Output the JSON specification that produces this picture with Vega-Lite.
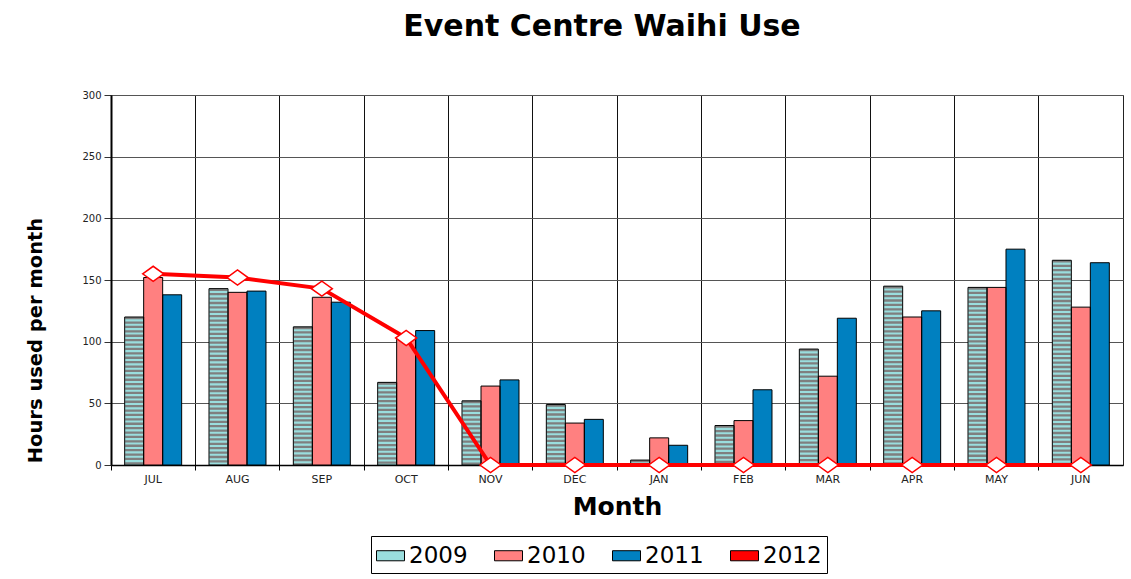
{
  "$schema": "https://vega.github.io/schema/vega-lite/v6.json",
  "width": 1012,
  "height": 370,
  "autosize": {"type": "none"},
  "padding": {"left": 111, "top": 95, "right": 8, "bottom": 114},
  "background": "white",
  "config": {
    "font": "DejaVu Sans",
    "view": {"stroke": "#222", "strokeWidth": 1}
  },
  "title": {
    "text": "Event Centre Waihi Use",
    "font": "DejaVu Sans",
    "fontSize": 30,
    "fontWeight": "bold",
    "color": "black",
    "anchor": "middle",
    "dx": -15,
    "baseline": "alphabetic",
    "offset": 24
  },
  "data": {
    "values": [
      {"month": "JUL", "year": "2009", "hours": 120},
      {"month": "JUL", "year": "2010", "hours": 152},
      {"month": "JUL", "year": "2011", "hours": 138},
      {"month": "JUL", "year": "2012", "hours": 155},
      {"month": "AUG", "year": "2009", "hours": 143},
      {"month": "AUG", "year": "2010", "hours": 140},
      {"month": "AUG", "year": "2011", "hours": 141},
      {"month": "AUG", "year": "2012", "hours": 152},
      {"month": "SEP", "year": "2009", "hours": 112},
      {"month": "SEP", "year": "2010", "hours": 136},
      {"month": "SEP", "year": "2011", "hours": 132},
      {"month": "SEP", "year": "2012", "hours": 143},
      {"month": "OCT", "year": "2009", "hours": 67},
      {"month": "OCT", "year": "2010", "hours": 102},
      {"month": "OCT", "year": "2011", "hours": 109},
      {"month": "OCT", "year": "2012", "hours": 103},
      {"month": "NOV", "year": "2009", "hours": 52},
      {"month": "NOV", "year": "2010", "hours": 64},
      {"month": "NOV", "year": "2011", "hours": 69},
      {"month": "NOV", "year": "2012", "hours": 0},
      {"month": "DEC", "year": "2009", "hours": 49},
      {"month": "DEC", "year": "2010", "hours": 34},
      {"month": "DEC", "year": "2011", "hours": 37},
      {"month": "DEC", "year": "2012", "hours": 0},
      {"month": "JAN", "year": "2009", "hours": 4},
      {"month": "JAN", "year": "2010", "hours": 22},
      {"month": "JAN", "year": "2011", "hours": 16},
      {"month": "JAN", "year": "2012", "hours": 0},
      {"month": "FEB", "year": "2009", "hours": 32},
      {"month": "FEB", "year": "2010", "hours": 36},
      {"month": "FEB", "year": "2011", "hours": 61},
      {"month": "FEB", "year": "2012", "hours": 0},
      {"month": "MAR", "year": "2009", "hours": 94},
      {"month": "MAR", "year": "2010", "hours": 72},
      {"month": "MAR", "year": "2011", "hours": 119},
      {"month": "MAR", "year": "2012", "hours": 0},
      {"month": "APR", "year": "2009", "hours": 145},
      {"month": "APR", "year": "2010", "hours": 120},
      {"month": "APR", "year": "2011", "hours": 125},
      {"month": "APR", "year": "2012", "hours": 0},
      {"month": "MAY", "year": "2009", "hours": 144},
      {"month": "MAY", "year": "2010", "hours": 144},
      {"month": "MAY", "year": "2011", "hours": 175},
      {"month": "MAY", "year": "2012", "hours": 0},
      {"month": "JUN", "year": "2009", "hours": 166},
      {"month": "JUN", "year": "2010", "hours": 128},
      {"month": "JUN", "year": "2011", "hours": 164},
      {"month": "JUN", "year": "2012", "hours": 0}
    ]
  },
  "encoding": {
    "x": {
      "field": "month",
      "type": "nominal",
      "sort": ["JUL","AUG","SEP","OCT","NOV","DEC","JAN","FEB","MAR","APR","MAY","JUN"],
      "scale": {"paddingInner": 0, "paddingOuter": 0},
      "axis": {
        "title": "Month",
        "titleFont": "DejaVu Sans",
        "titleFontSize": 25,
        "titleFontWeight": "bold",
        "titleColor": "black",
        "titleBaseline": "alphabetic",
        "titleY": 49,
        "bandPosition": 0,
        "grid": true,
        "gridColor": "#111",
        "gridWidth": 1,
        "gridOpacity": 1,
        "domainColor": "black",
        "domainWidth": 1.5,
        "tickColor": "black",
        "tickSize": 5,
        "labelAngle": 0,
        "labelFont": "DejaVu Sans",
        "labelFontSize": 11,
        "labelColor": "#222",
        "labelPadding": 3
      }
    },
    "y": {
      "field": "hours",
      "type": "quantitative",
      "scale": {"domain": [0, 300], "nice": false},
      "axis": {
        "title": "Hours used  per month",
        "titleFont": "DejaVu Sans",
        "titleFontSize": 19.5,
        "titleFontWeight": "bold",
        "titleColor": "black",
        "titleAngle": -90,
        "titleX": -76,
        "titleY": 245,
        "titleAlign": "center",
        "titleBaseline": "middle",
        "values": [0, 50, 100, 150, 200, 250, 300],
        "grid": true,
        "gridColor": "#555",
        "gridWidth": 1,
        "gridOpacity": 1,
        "domainColor": "black",
        "domainWidth": 2,
        "tickColor": "#333",
        "tickSize": 7,
        "labelFont": "DejaVu Sans",
        "labelFontSize": 10,
        "labelColor": "#222",
        "labelPadding": 3
      }
    }
  },
  "layer": [
    {
      "transform": [{"filter": "datum.year != '2012'"}],
      "mark": {"type": "bar", "strokeWidth": 0},
      "encoding": {
        "xOffset": {
          "field": "year",
          "type": "nominal",
          "scale": {"domain": ["2009", "2010", "2011"], "paddingInner": 0, "paddingOuter": 0.72}
        },
        "color": {
          "field": "year",
          "type": "nominal",
          "scale": {
            "domain": ["2009", "2010", "2011", "2012"],
            "range": ["#9adede", "#ff8080", "#0080c0", "#ff0000"]
          },
          "legend": {
            "orient": "none",
            "legendX": 260,
            "legendY": 441,
            "direction": "horizontal",
            "columns": 4,
            "title": null,
            "padding": 5,
            "strokeColor": "black",
            "fillColor": "white",
            "columnPadding": 24,
            "symbolSize": 784,
            "symbolType": "M-1,-0.36H1V0.36H-1Z",
            "symbolStrokeColor": "black",
            "symbolStrokeWidth": 1,
            "symbolOpacity": 1,
            "labelOffset": 4,
            "labelFont": "DejaVu Sans",
            "labelFontSize": 23,
            "labelColor": "black",
            "labelLimit": 200
          }
        }
      }
    },
    {
      "transform": [{"filter": "datum.year == '2009'"}],
      "mark": {"type": "rule", "color": "#7f7f7f", "strokeWidth": 18, "strokeDash": [2.3, 2.1], "strokeCap": "butt"},
      "encoding": {
        "x": {"field": "month", "type": "nominal", "bandPosition": 0.2745},
        "y2": {"datum": 0}
      }
    },
    {
      "transform": [{"filter": "datum.year != '2012'"}],
      "mark": {"type": "bar", "fillOpacity": 0, "stroke": "black", "strokeWidth": 1},
      "encoding": {
        "xOffset": {"field": "year", "type": "nominal"}
      }
    },
    {
      "transform": [{"filter": "datum.year == '2012'"}],
      "mark": {"type": "line", "color": "#ff0000", "strokeWidth": 4},
      "encoding": {}
    },
    {
      "transform": [{"filter": "datum.year == '2012'"}],
      "mark": {"type": "point", "shape": "M-1,0L0,-0.72L1,0L0,0.72Z", "size": 441, "filled": true, "fill": "white", "stroke": "#ff0000", "strokeWidth": 1.5, "opacity": 1, "fillOpacity": 1},
      "encoding": {}
    }
  ]
}
